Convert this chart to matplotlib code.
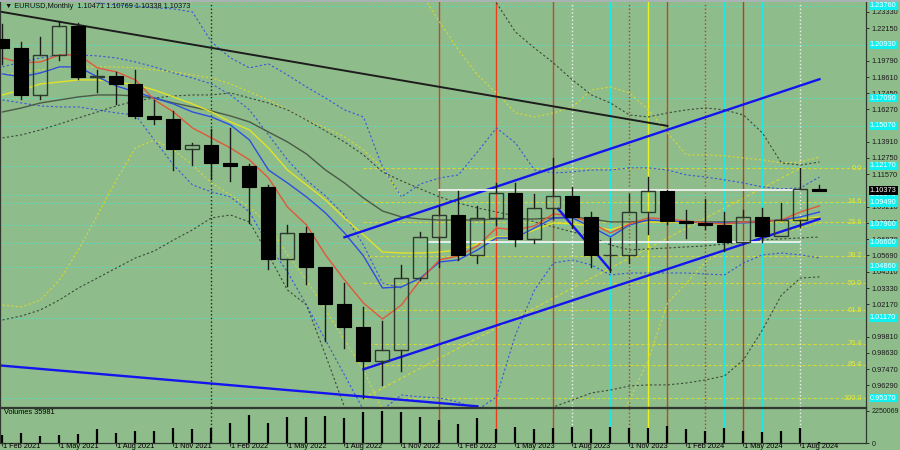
import numpy as np
import matplotlib
matplotlib.use("Agg")
import matplotlib.pyplot as plt
import matplotlib.transforms as mtransforms
from matplotlib.patches import Rectangle

# monthly bars, Feb 2021 .. Sep 2024
months = ["Feb 2021", "Mar 2021", "Apr 2021", "May 2021", "Jun 2021", "Jul 2021", "Aug 2021", "Sep 2021",
          "Oct 2021", "Nov 2021", "Dec 2021", "Jan 2022", "Feb 2022", "Mar 2022", "Apr 2022", "May 2022",
          "Jun 2022", "Jul 2022", "Aug 2022", "Sep 2022", "Oct 2022", "Nov 2022", "Dec 2022", "Jan 2023",
          "Feb 2023", "Mar 2023", "Apr 2023", "May 2023", "Jun 2023", "Jul 2023", "Aug 2023", "Sep 2023",
          "Oct 2023", "Nov 2023", "Dec 2023", "Jan 2024", "Feb 2024", "Mar 2024", "Apr 2024", "May 2024",
          "Jun 2024", "Jul 2024", "Aug 2024", "Sep 2024"]
opens = [1.2135, 1.2074, 1.1730, 1.2020, 1.2227, 1.1858, 1.1870, 1.1809, 1.1580, 1.1558, 1.1338, 1.1370,
         1.1235, 1.1218, 1.1067, 1.0545, 1.0734, 1.0484, 1.0220, 1.0054, 0.9802, 0.9884, 1.0406, 1.0705,
         1.0863, 1.0576, 1.0839, 1.1018, 1.0690, 1.0910, 1.0998, 1.0844, 1.0573, 1.0575, 1.0887, 1.1039,
         1.0818, 1.0805, 1.0790, 1.0666, 1.0848, 1.0713, 1.0825, 1.10471]
highs = [1.2243, 1.2113, 1.2150, 1.2266, 1.2254, 1.1909, 1.1900, 1.1909, 1.1692, 1.1616, 1.1386, 1.1482,
         1.1495, 1.1233, 1.1076, 1.0787, 1.0774, 1.0486, 1.0369, 1.0198, 1.0094, 1.0497, 1.0736, 1.0929,
         1.1033, 1.0930, 1.1095, 1.1092, 1.1012, 1.1276, 1.1065, 1.0882, 1.0695, 1.1017, 1.1140, 1.1046,
         1.0898, 1.0981, 1.0885, 1.0895, 1.0916, 1.0948, 1.1202, 1.10769]
lows = [1.1952, 1.1704, 1.1704, 1.1986, 1.1847, 1.1752, 1.1664, 1.1563, 1.1524, 1.1186, 1.1222, 1.1121,
        1.1106, 1.0806, 1.0471, 1.0349, 1.0359, 0.9952, 0.9901, 0.9536, 0.9632, 0.9730, 1.0393, 1.0483,
        1.0533, 1.0516, 1.0788, 1.0635, 1.0662, 1.0834, 1.0766, 1.0488, 1.0448, 1.0517, 1.0724, 1.0795,
        1.0695, 1.0764, 1.0601, 1.0650, 1.0668, 1.0710, 1.0778, 1.10338]
closes = [1.2074, 1.1730, 1.2020, 1.2227, 1.1858, 1.1870, 1.1809, 1.1580, 1.1558, 1.1338, 1.1370, 1.1235,
          1.1218, 1.1067, 1.0545, 1.0734, 1.0484, 1.0220, 1.0054, 0.9802, 0.9884, 1.0406, 1.0705, 1.0863,
          1.0576, 1.0839, 1.1018, 1.0690, 1.0910, 1.0998, 1.0844, 1.0573, 1.0575, 1.0887, 1.1039, 1.0818,
          1.0805, 1.0790, 1.0666, 1.0848, 1.0713, 1.0825, 1.1048, 1.10373]
volumes = [578000, 697000, 509000, 529000, 627000, 996000, 697000, 878000, 808000, 1087000, 996000,
           1087000, 1393000, 1971000, 1435000, 1811000, 1853000, 1902000, 1742000, 2160000, 2250069,
           2200000, 1853000, 1623000, 1344000, 1783000, 975000, 1115000, 996000, 1087000, 1156000,
           996000, 1156000, 1087000, 1087000, 1205000, 975000, 878000, 1045000, 808000, 766000,
           857000, 1066000, 35981]

# indicator lines
ma_red = [1.1999, 1.1963, 1.1970, 1.2021, 1.2021, 1.1927, 1.1898, 1.1840, 1.1695, 1.1608, 1.1492, 1.1420,
          1.1347, 1.1261, 1.1130, 1.0920, 1.0790, 1.0573, 1.0392, 1.0225, 1.0109, 1.0211, 1.0392, 1.0537,
          1.0566, 1.0638, 1.0768, 1.0754, 1.0783, 1.0870, 1.0855, 1.0804, 1.0732, 1.0797, 1.0841, 1.0833,
          1.0819, 1.0804, 1.0797, 1.0812, 1.0812, 1.0826, 1.0884, 1.0928]
ma_blue = [1.1883, 1.1862, 1.1891, 1.1934, 1.1934, 1.1862, 1.1796, 1.1753, 1.1709, 1.1666, 1.1608, 1.1572,
           1.1514, 1.1405, 1.1188, 1.1094, 1.0993, 1.0877, 1.0732, 1.0566, 1.0334, 1.0341, 1.0406, 1.0522,
           1.0537, 1.0609, 1.0696, 1.0696, 1.0768, 1.0841, 1.0841, 1.0776, 1.0703, 1.0790, 1.0826, 1.0819,
           1.0812, 1.0804, 1.0804, 1.0804, 1.0812, 1.0826, 1.0848, 1.0884]
ma_yellow = [1.1731, 1.1767, 1.1811, 1.1825, 1.1840, 1.1840, 1.1825, 1.1804, 1.1767, 1.1717, 1.1666, 1.1608,
             1.1536, 1.1478, 1.1347, 1.1188, 1.1080, 1.0971, 1.0841, 1.0718, 1.0594, 1.0587, 1.0587, 1.0594,
             1.0609, 1.0652, 1.0703, 1.0703, 1.0754, 1.0804, 1.0797, 1.0783, 1.0754, 1.0797, 1.0812, 1.0812,
             1.0804, 1.0804, 1.0797, 1.0804, 1.0812, 1.0819, 1.0833, 1.0848]
ma_gray = [1.1608, 1.1637, 1.1673, 1.1695, 1.1717, 1.1731, 1.1731, 1.1724, 1.1709, 1.1673, 1.1644, 1.1615,
           1.1579, 1.1536, 1.1463, 1.1391, 1.1304, 1.1188, 1.1094, 1.0985, 1.0891, 1.0848, 1.0833, 1.0826,
           1.0826, 1.0826, 1.0833, 1.0833, 1.0833, 1.0841, 1.0848, 1.0833, 1.0812, 1.0812, 1.0819, 1.0819,
           1.0812, 1.0812, 1.0812, 1.0812, 1.0819, 1.0826, 1.0833, 1.0841]
nan = np.nan
blue_env = [1.1934, 1.1970, 1.1999, 1.2021, 1.2021, 1.2014, 1.1999, 1.1970, 1.1934, 1.1890, 1.1854, 1.1811,
            1.1731, 1.1623, 1.1442, 1.1261, 1.1116, 1.1000, 1.0862, 1.0645, 1.0370, 1.0334] + [nan] * 22
blue_up = [1.2600, 1.2564, 1.2549, 1.2528, 1.2477, 1.2397, 1.2383, 1.2376, 1.2361, 1.2354, 1.2332, 1.2115,
           1.1999, 1.1927, 1.1956, 1.1876, 1.1789, 1.1709, 1.1623, 1.1572, 1.1210, 1.0993, 1.1087, 1.1130,
           1.1152, 1.1319, 1.1492, 1.1384, 1.1188, 1.1166, 1.1174, 1.1188, 1.1188, 1.1203, 1.1203, 1.1188,
           1.1152, 1.1137, 1.1116, 1.1094, 1.1065, 1.1051, 1.1058, 1.1137]
blue_dn = [1.1695, 1.1673, 1.1652, 1.1644, 1.1644, 1.1623, 1.1601, 1.1586, 1.1405, 1.1224, 1.1080, 1.1029,
           1.0993, 1.0884, 1.0645, 1.0450, 1.0211, 0.9957, 0.9704, 0.9451, 0.9451, 0.9559, 0.9545, 0.9537,
           0.9508, 0.9451, 0.9545, 0.9994, 1.0319, 1.0515, 1.0537, 1.0500, 1.0428, 1.0442, 1.0442, 1.0442,
           1.0442, 1.0435, 1.0428, 1.0515, 1.0573, 1.0587, 1.0573, 1.0551]
yellow_env = [1.1876, 1.1898, 1.1912, 1.1927, 1.1934, 1.1934, 1.1934, 1.1927, 1.1912, 1.1898, 1.1876, 1.1854,
              1.1811, 1.1753, 1.1695, 1.1623, 1.1550, 1.1492, 1.1427, 1.1333, 1.1203, 1.0993] + [nan] * 22
yellow_up = [nan] * 21 + [1.2853, 1.2477, 1.2260, 1.2057, 1.1876, 1.1746, 1.1601, 1.1572, 1.1601, 1.1644,
                          1.1767, 1.1789, 1.1746, 1.1623, 1.1456, 1.1297, 1.1297, 1.1290, 1.1275, 1.1261,
                          1.1239, 1.1246, 1.1282]
yellow_dn = [1.0211, 1.0196, 1.0247, 1.0392, 1.0609, 1.0862, 1.1116, 1.1347, 1.1405, 1.1333, 1.1224, 1.1094,
             1.1007, 1.0920, 1.0790, 1.0573, 1.0392, 1.0175, 0.9957, 0.9740, 0.9451, 0.9233] + [nan] * 10 + \
            [0.9233, 0.9523, 0.9813, 1.0225, 1.0370, 1.0522, 1.0609, 1.0660, 1.0696, 1.0732, 1.0768, 1.0804]
gray_env = [1.1420, 1.1442, 1.1478, 1.1521, 1.1565, 1.1608, 1.1652, 1.1688, 1.1709, 1.1724, 1.1731, 1.1731,
            1.1746, 1.1709, 1.1673, 1.1623, 1.1550, 1.1471, 1.1391, 1.1297, 1.1174, 1.1109, 1.1051, 1.0993,
            1.0949, 1.0913, 1.0884, 1.0855, 1.0812, 1.0776, 1.0739, 1.0703, 1.0645, 1.0609, 1.0616, 1.0623,
            1.0631, 1.0638, 1.0652, 1.0667, 1.0681, 1.0689, 1.0696, 1.0703]
gray_up = [nan] * 25 + [1.2600, 1.2397, 1.2187, 1.2071, 1.1963, 1.1840, 1.1731, 1.1673, 1.1586, 1.1572,
                        1.1601, 1.1623, 1.1637, 1.1623, 1.1586, 1.1456, 1.1239, 1.1224, 1.1246]
gray_dn = [1.0102, 1.0131, 1.0175, 1.0247, 1.0334, 1.0406, 1.0479, 1.0551, 1.0602, 1.0681, 1.0754, 1.0841,
           1.0862, 1.0812, 1.0573, 1.0319, 1.0211, 0.9849, 0.9472, 0.9233] + [nan] * 8 + \
          [0.9233, 0.9472, 0.9523, 0.9574, 0.9595, 0.9624, 0.9632, 0.9632, 0.9646, 0.9668, 0.9697, 0.9813,
           1.0030, 1.0283, 1.0406, 1.0414]

# drawn objects: (bar index, price)
trend_black = [(-1, 1.2355), (35, 1.1507)]
trend_blue_low = [(-1, 0.9783), (25, 0.9477)]
channel_top = [(18, 1.0701), (43, 1.1845)]
channel_bottom = [(19, 0.9745), (43, 1.0833)]
short_leg = [(29.25, 1.0906), (32, 1.0464)]
white_levels = [(1.1043, 23, 42), (1.0665, 22.4, 42)]
cyan_levels = [1.2376, 1.2093, 1.1709, 1.1507, 1.1217, 1.1007, 1.0949, 1.0790, 1.0660, 1.0486, 1.0117, 0.9537]
fib_names = ["0.0", "14.6", "23.6", "38.2", "50.0", "61.8", "76.4", "85.4", "100.0"]
fib_prices = [1.1202, 1.0959, 1.0809, 1.0566, 1.0369, 1.0172, 0.9929, 0.9779, 0.9536]
fib_anchor = [(19, 0.9536), (42, 1.1202)]
vlines = [(11, "#1e261e", ":"), (23, "#c8442e", "-"), (26, "#ec3c1c", "-"), (29, "#c8442e", "-"),
          (30, "#f0f0f0", ":"), (32, "#20e8e8", "-"), (33, "#b84020", ":"), (34, "#e8f020", "-"),
          (35, "#b84a2a", "-"), (37, "#b84020", ":"), (38, "#20e8e8", "-"), (39, "#c03a24", "-"),
          (40, "#20e8e8", "-"), (42, "#f0f0f0", ":")]
# price scale labels left visible by the cyan boxes
price_ticks = [1.23330, 1.22150, 1.19790, 1.18610, 1.17450, 1.16270, 1.13910, 1.12750,
               1.11570, 1.09210, 1.08050, 1.06870, 1.05690, 1.04510, 1.03330, 1.02170,
               0.99810, 0.98630, 0.97470, 0.96290]
date_ticks = ["Feb 2021", "May 2021", "Aug 2021", "Nov 2021", "Feb 2022", "May 2022", "Aug 2022", "Nov 2022",
              "Feb 2023", "May 2023", "Aug 2023", "Nov 2023", "Feb 2024", "May 2024", "Aug 2024"]
last_price = 1.10373

BG = "#8fbc8b"
FS = 5.3
plt.rcParams['font.family'] = ['Liberation Sans', 'DejaVu Sans']

fig = plt.figure(figsize=(9, 4.5), dpi=100, facecolor=BG)
ax = fig.add_axes([0, 43 / 450, 866 / 900, 405 / 450])
axv = fig.add_axes([0, 7 / 450, 866 / 900, 35 / 450], sharex=ax)
fig.patches.append(Rectangle((0, 448 / 450), 1, 2 / 450, transform=fig.transFigure,
                             facecolor="#a9b2b4", edgecolor="none"))
for a in (ax, axv):
    a.set_facecolor(BG)
    for s in a.spines.values():
        s.set_color("#2e382e")
        s.set_linewidth(0.9)
ax.spines['top'].set_visible(False)

x = np.arange(len(months))
ax.set_xlim(-0.13, 45.45)
ax.set_ylim(0.9472, 1.2404)
dot = (0, (2, 2))

# horizontal levels
for lv in cyan_levels:
    ax.axhline(lv, color="#56dcc4", lw=0.7, ls=(0, (2, 2)), zorder=1)
for lv in fib_prices:
    ax.plot([fib_anchor[0][0], 45.45], [lv, lv], color="#d6d832", lw=0.8, ls=(0, (3, 2)), zorder=1)
ax.plot([p[0] for p in fib_anchor], [p[1] for p in fib_anchor], color="#d6d832", lw=0.8, ls=(0, (3, 2)), zorder=1)

# vertical lines through both panes
for i, c, st in vlines:
    for a in (ax, axv):
        a.axvline(i, color=c, lw=1.0, ls=st, zorder=1.5)

# indicators
ax.plot(x, blue_up, color="#3a58d8", lw=0.8, ls=dot, zorder=2)
ax.plot(x, blue_dn, color="#3a58d8", lw=0.8, ls=dot, zorder=2)
ax.plot(x, blue_env, color="#3a58d8", lw=0.8, ls=dot, zorder=2)
ax.plot(x, yellow_up, color="#d8d830", lw=0.8, ls=dot, zorder=2)
ax.plot(x, yellow_dn, color="#d8d830", lw=0.8, ls=dot, zorder=2)
ax.plot(x, yellow_env, color="#d8d830", lw=0.8, ls=dot, zorder=2)
ax.plot(x, gray_up, color="#3c4a3c", lw=0.8, ls=dot, zorder=2)
ax.plot(x, gray_dn, color="#3c4a3c", lw=0.8, ls=dot, zorder=2)
ax.plot(x, gray_env, color="#3c4a3c", lw=0.8, ls=dot, zorder=2)
ax.plot(x, ma_gray, color="#4a5a46", lw=1.0, zorder=2.1)
ax.plot(x, ma_yellow, color="#e2e22a", lw=1.0, zorder=2.1)
ax.plot(x, ma_blue, color="#2f4ee0", lw=1.0, zorder=2.1)
ax.plot(x, ma_red, color="#e0583a", lw=1.0, zorder=2.1)

# drawn lines
ax.plot(*zip(*trend_black), color="#1c1c1c", lw=1.4, zorder=2.5)
for seg in (trend_blue_low, channel_top, channel_bottom, short_leg):
    ax.plot(*zip(*seg), color="#1414f0", lw=1.7, zorder=2.5)
for lv, x0, x1 in white_levels:
    ax.plot([x0, x1], [lv, lv], color="#f2f2f2", lw=1.3, zorder=2.5)

# candles
w = 0.74
for i in range(len(months)):
    o, h, l, c = opens[i], highs[i], lows[i], closes[i]
    top, bot = max(o, c), min(o, c)
    ax.plot([i, i], [top, h], color="#1a1a1a", lw=1.0, zorder=3)
    ax.plot([i, i], [l, bot], color="#1a1a1a", lw=1.0, zorder=3)
    if c >= o:
        ax.add_patch(Rectangle((i - w / 2, bot), w, max(top - bot, 0.0002), facecolor="none",
                               edgecolor="#2c3a2c", lw=1.0, zorder=3))
    else:
        ax.add_patch(Rectangle((i - w / 2, bot), w, max(top - bot, 0.0012), facecolor="black",
                               edgecolor="black", lw=0.8, zorder=3))

# right price scale
ax.yaxis.tick_right()
ax.set_yticks(price_ticks)
ax.set_yticklabels([f"{v:.5f}" for v in price_ticks], fontsize=FS)
ax.tick_params(axis='y', length=2.5, width=0.6, pad=1.5, colors="#1a1a1a")
ax.tick_params(axis='x', bottom=False, labelbottom=False)
tr = mtransforms.blended_transform_factory(ax.transAxes, ax.transData)
for lv in cyan_levels:
    ax.text(1.0045, lv, f"{lv:.5f}", transform=tr, fontsize=FS, color="white", va="center", ha="left",
            bbox=dict(boxstyle="square,pad=0.12", fc="#10f0f0", ec="none"), clip_on=False, zorder=10)
ax.text(1.0045, last_price, f"{last_price:.5f}", transform=tr, fontsize=FS, color="white", va="center",
        ha="left", bbox=dict(boxstyle="square,pad=0.12", fc="black", ec="none"), clip_on=False, zorder=11)
for name, lv in zip(fib_names, fib_prices):
    ax.text(0.995, lv, name, transform=tr, fontsize=FS, color="#e4e83a", va="center", ha="right", zorder=4)

fig.text(0.006, 1 - 6.5 / 450, "\u25bc EURUSD,Monthly  1.10471 1.10769 1.10338 1.10373",
         fontsize=FS, va="center", ha="left", color="#111111")

# volume pane
axv.vlines(x, 0, volumes, color="black", lw=1.6)
axv.set_ylim(0, 2459000)
axv.yaxis.tick_right()
axv.set_yticks([0, 2250069])
axv.set_yticklabels(["0", "2250069"], fontsize=5.0)
axv.tick_params(axis='y', length=2.5, width=0.6, pad=1.5, colors="#1a1a1a")
pos = [months.index(m) for m in date_ticks]
axv.set_xticks(pos)
axv.tick_params(axis='x', length=2, width=0.6, labelbottom=False, colors="#1a1a1a")
trv = mtransforms.blended_transform_factory(axv.transData, fig.transFigure)
for p_, m in zip(pos, date_ticks):
    axv.text(p_ + 0.05, 3.6 / 450, "1 " + m, transform=trv, fontsize=FS, ha="left", va="center", clip_on=False)
axv.text(0.005, 0.86, "Volumes 35981", transform=axv.transAxes, fontsize=FS, va="center", ha="left")

fig.savefig("out.png", dpi=100, facecolor=BG)
